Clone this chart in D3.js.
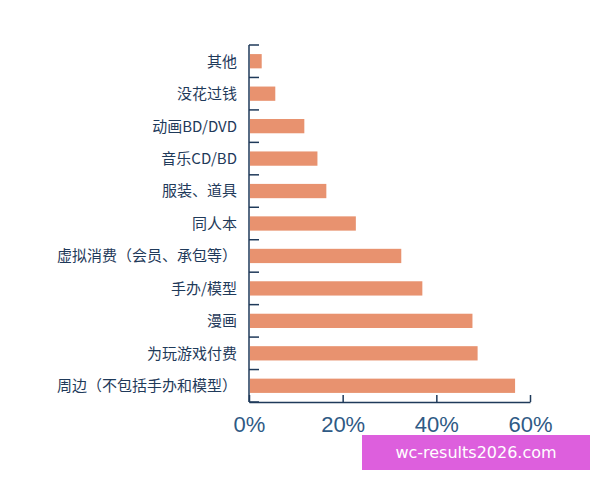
<!DOCTYPE html>
<html><head><meta charset="utf-8">
<script src="https://cdn.jsdelivr.net/npm/d3@7"></script>
<style>body{margin:0;background:#fff}</style>
</head><body>
<script>
// categories bottom to top order as shown top to bottom
const categories = ["其他","没花过钱","动画BD/DVD","音乐CD/BD","服装、道具","同人本","虚拟消费（会员、承包等）","手办/模型","漫画","为玩游戏付费","周边（不包括手办和模型）"]
const values = [2.5, 5.4, 11.6, 14.4, 16.3, 22.6, 32.3, 36.8, 47.5, 48.6, 56.6]
const ticks = [0, 20, 40, 60]

const width = 600, height = 480
const margin = {top: 45, right: 70, bottom: 78, left: 249}

const svg = d3.select("body").append("svg")
    .attr("width", width).attr("height", height)

const x = d3.scaleLinear().domain([0, 60]).range([margin.left, 530])
const y = d3.scaleBand().domain(categories)
    .range([margin.top, height - margin.bottom]).paddingInner(0.56).paddingOuter(0.28)

const axisColor = "#1f3a5a"

// bars
svg.append("g").attr("fill", "#e8926f")
    .selectAll("rect").data(categories).join("rect")
    .attr("x", x(0) + 1)
    .attr("y", d => y(d))
    .attr("width", (d, i) => x(values[i]) - x(0))
    .attr("height", y.bandwidth())

// left axis line with separator ticks
const gy = svg.append("g").attr("stroke", axisColor).attr("stroke-width", 1.5)
gy.append("line").attr("x1", x(0)).attr("x2", x(0))
    .attr("y1", margin.top).attr("y2", height - margin.bottom)
const step = y.step()
gy.selectAll("line.sep").data(d3.range(categories.length + 1)).join("line")
    .attr("class", "sep")
    .attr("x1", x(0)).attr("x2", x(0) + 10)
    .attr("y1", i => margin.top + i * step + (y(categories[0]) - margin.top - step * 0.28) )
    .attr("y2", i => margin.top + i * step + (y(categories[0]) - margin.top - step * 0.28))

// category labels
svg.append("g").selectAll("text").data(categories).join("text")
    .attr("x", x(0) - 12)
    .attr("y", d => y(d) + y.bandwidth() / 2)
    .attr("dy", "0.36em")
    .attr("text-anchor", "end")
    .attr("fill", "#1f3a5a")
    .style("font", "15px 'Noto Sans CJK SC'")
    .text(d => d)

// bottom axis
const gx = svg.append("g")
    .attr("transform", `translate(0,${height - margin.bottom})`)
    .call(d3.axisBottom(x).tickValues(ticks).tickSize(-7).tickSizeOuter(0).tickFormat(d => d + "%"))
gx.select(".domain").attr("stroke", axisColor).attr("stroke-width", 1.5)
gx.selectAll(".tick line").attr("stroke", axisColor).attr("stroke-width", 1.5)
gx.selectAll(".tick text").attr("fill", "#2f5a85").attr("y", 14)
    .style("font", "22px 'Liberation Sans', sans-serif")

// watermark
svg.append("rect").attr("x", 362).attr("y", 435).attr("width", 228).attr("height", 35).attr("fill", "#dd5fdd")
svg.append("text").attr("x", 476).attr("y", 458).attr("text-anchor", "middle")
    .attr("fill", "#fff").style("font", "16px 'DejaVu Sans'").text("wc-results2026.com")
</script>
</body></html>
